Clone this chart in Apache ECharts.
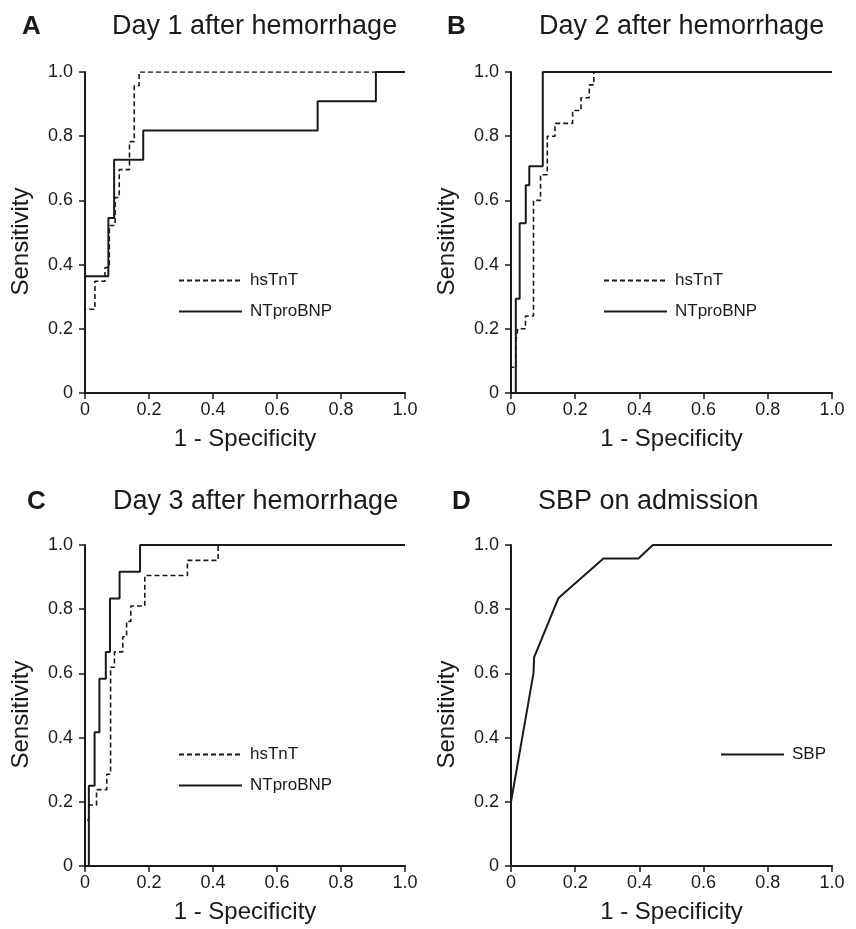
<!DOCTYPE html>
<html>
<head>
<meta charset="utf-8">
<script src="https://cdn.jsdelivr.net/npm/echarts@6/dist/echarts.min.js"></script>
<style>
html,body{margin:0;padding:0;background:#fff;}
#chart{width:856px;height:929px;}
</style>
</head>
<body>
<div id="chart"></div>
<script>
// ---- data ----
const panelLetters = ['A', 'B', 'C', 'D'];
const panelTitles = ['Day 1 after hemorrhage', 'Day 2 after hemorrhage', 'Day 3 after hemorrhage', 'SBP on admission'];
const xAxisName = '1 - Specificity';
const yAxisName = 'Sensitivity';
const tickValues = [0, 0.2, 0.4, 0.6, 0.8, 1.0];
const tickLabels = ['0', '0.2', '0.4', '0.6', '0.8', '1.0'];

// Panel A (Day 1)
const aHsTnTFpr  = [0, 0, 0.031, 0.0625, 0.076, 0.094, 0.107, 0.139, 0.154, 0.169, 1];
const aHsTnTSens = [0, 0.261, 0.348, 0.391, 0.522, 0.609, 0.696, 0.783, 0.957, 1.0, 1.0];
const aBnpFpr    = [0, 0, 0.073, 0.091, 0.182, 0.727, 0.909, 1];
const aBnpSens   = [0, 0.364, 0.545, 0.727, 0.818, 0.909, 1.0, 1.0];

// Panel B (Day 2)
const bHsTnTFpr  = [0, 0, 0.015, 0.021, 0.045, 0.07, 0.092, 0.113, 0.137, 0.192, 0.218, 0.244, 0.258, 1];
const bHsTnTSens = [0, 0.08, 0.16, 0.2, 0.24, 0.6, 0.68, 0.8, 0.84, 0.88, 0.92, 0.96, 1.0, 1.0];
const bBnpFpr    = [0, 0.015, 0.027, 0.046, 0.057, 0.099, 1];
const bBnpSens   = [0, 0.294, 0.529, 0.647, 0.706, 1.0, 1.0];

// Panel C (Day 3)
const cHsTnTFpr  = [0, 0, 0.012, 0.036, 0.068, 0.08, 0.092, 0.118, 0.13, 0.143, 0.187, 0.32, 0.416, 1];
const cHsTnTSens = [0, 0.143, 0.19, 0.238, 0.286, 0.619, 0.667, 0.714, 0.762, 0.81, 0.905, 0.952, 1.0, 1.0];
const cBnpFpr    = [0, 0.012, 0.03, 0.045, 0.065, 0.078, 0.108, 0.172, 1];
const cBnpSens   = [0, 0.25, 0.417, 0.583, 0.667, 0.833, 0.917, 1.0, 1.0];

// Panel D (SBP)
const dSbpFpr  = [0, 0.07, 0.072, 0.148, 0.288, 0.397, 0.442, 1];
const dSbpSens = [0.2, 0.6, 0.65, 0.835, 0.958, 0.958, 1.0, 1.0];

// ---- layout / style ----
const FONT = "'Liberation Sans', Arial, Helvetica, sans-serif";
const INK = '#1a1a1a';
const grids = [
  {left: 85, top: 72, width: 320, height: 321},
  {left: 511, top: 72, width: 321, height: 321},
  {left: 85, top: 545, width: 320, height: 321},
  {left: 511, top: 545, width: 321, height: 321}
];
const zip = (xs, ys) => xs.map((x, i) => [x, ys[i]]);
const fmt = v => { const i = tickValues.findIndex(t => Math.abs(t - v) < 1e-9); return i >= 0 ? tickLabels[i] : ''; };

function xAx(i) {
  return {
    gridIndex: i, type: 'value', min: 0, max: 1, interval: 0.2,
    name: xAxisName, nameLocation: 'middle', nameGap: 34,
    nameTextStyle: {fontFamily: FONT, fontSize: 24, color: INK},
    axisLine: {show: true, onZero: false, lineStyle: {color: INK, width: 2}},
    axisTick: {show: true, inside: false, length: 6, lineStyle: {color: INK, width: 1.5}},
    axisLabel: {formatter: fmt, fontFamily: FONT, fontSize: 18, color: INK, margin: 8},
    splitLine: {show: false}
  };
}
function yAx(i) {
  return {
    gridIndex: i, type: 'value', min: 0, max: 1, interval: 0.2,
    name: yAxisName, nameLocation: 'middle', nameGap: 52, nameRotate: 90,
    nameTextStyle: {fontFamily: FONT, fontSize: 24, color: INK, padding: [0, 18, 0, 0]},
    axisLine: {show: true, onZero: false, lineStyle: {color: INK, width: 2}},
    axisTick: {show: true, inside: false, length: 6, lineStyle: {color: INK, width: 1.5}},
    axisLabel: {formatter: fmt, fontFamily: FONT, fontSize: 18, color: INK, margin: 12},
    splitLine: {show: false}
  };
}
function stepSeries(name, idx, xs, ys, dashed) {
  return {
    name: name, type: 'line', xAxisIndex: idx, yAxisIndex: idx, color: INK,
    data: zip(xs, ys), step: 'end', symbol: 'none', z: dashed ? 3 : 4,
    lineStyle: dashed ? {color: INK, width: 1.6, type: [5, 3]} : {color: INK, width: 2, type: 'solid'},
    animation: false
  };
}

const series = [
  stepSeries('hsTnT', 0, aHsTnTFpr, aHsTnTSens, true),
  stepSeries('NTproBNP', 0, aBnpFpr, aBnpSens, false),
  stepSeries('hsTnT', 1, bHsTnTFpr, bHsTnTSens, true),
  stepSeries('NTproBNP', 1, bBnpFpr, bBnpSens, false),
  stepSeries('hsTnT', 2, cHsTnTFpr, cHsTnTSens, true),
  stepSeries('NTproBNP', 2, cBnpFpr, cBnpSens, false),
  {
    name: 'SBP', type: 'line', xAxisIndex: 3, yAxisIndex: 3, color: INK,
    data: zip(dSbpFpr, dSbpSens), symbol: 'none',
    lineStyle: {color: INK, width: 2}, animation: false
  }
];

function legendAt(left, top, names) {
  return {
    left: left, top: top, orient: 'vertical', data: names, padding: 0,
    itemWidth: 63, itemHeight: 14, itemGap: 14, selectedMode: false,
    itemStyle: {opacity: 0},
    textStyle: {fontFamily: FONT, fontSize: 17, color: INK, padding: [0, 0, 0, 3]}
  };
}

const letterPos = [[22, 14], [447, 14], [27, 489], [452, 489]];
const titlePos = [[112, 13], [539, 13], [113, 488], [538, 488]];
const graphic = [];
for (let i = 0; i < 4; i++) {
  graphic.push({type: 'text', left: letterPos[i][0], top: letterPos[i][1],
    style: {text: panelLetters[i], fontFamily: FONT, fontSize: 26, fontWeight: 'bold', fill: INK}});
  graphic.push({type: 'text', left: titlePos[i][0], top: titlePos[i][1],
    style: {text: panelTitles[i], fontFamily: FONT, fontSize: 27, fill: INK}});
}

const chart = echarts.init(document.getElementById('chart'), null, {renderer: 'canvas'});
chart.setOption({
  backgroundColor: '#fff',
  animation: false,
  grid: grids,
  xAxis: [0, 1, 2, 3].map(xAx),
  yAxis: [0, 1, 2, 3].map(yAx),
  legend: [
    legendAt(178, 272, ['hsTnT', 'NTproBNP']),
    legendAt(603, 272, ['hsTnT', 'NTproBNP']),
    legendAt(178, 746, ['hsTnT', 'NTproBNP']),
    legendAt(720, 746, ['SBP'])
  ],
  graphic: graphic,
  series: series
});
</script>
</body>
</html>
